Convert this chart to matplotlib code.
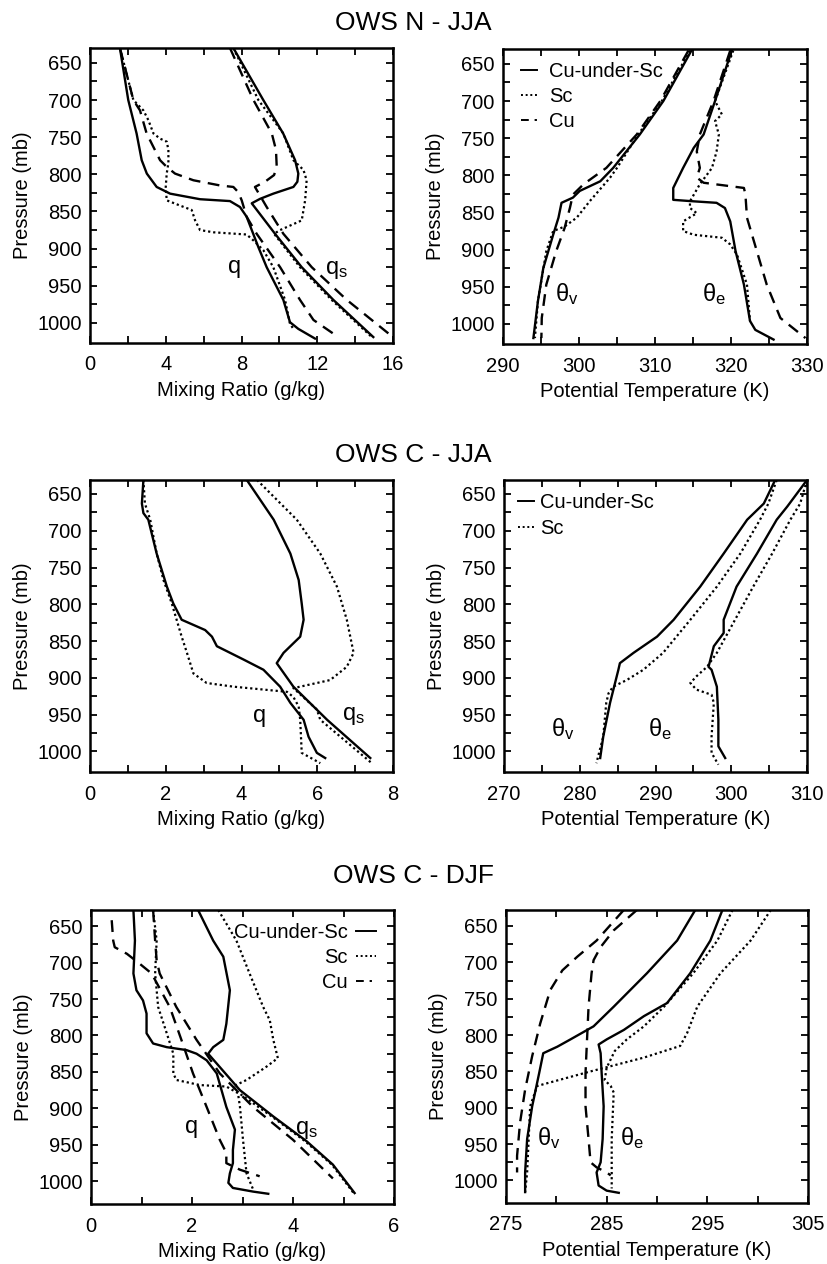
import matplotlib.pyplot as plt
from matplotlib.lines import Line2D
import numpy as np

plt.rcParams['font.family'] = ['Liberation Sans', 'DejaVu Sans']
plt.rcParams['mathtext.fontset'] = 'custom'
plt.rcParams['mathtext.rm'] = 'Liberation Sans'
plt.rcParams['mathtext.it'] = 'Liberation Sans'

# ---------------- OWS N - JJA : mixing ratio (g/kg) ----------------
nq_cus_p = [630, 700, 745, 781, 799, 817, 826, 833.5, 836, 844, 857, 898, 925, 969, 999, 1008, 1021]
nq_cus = [1.58, 2.02, 2.46, 2.73, 3.0, 3.52, 4.23, 5.81, 7.39, 7.92, 8.27, 8.89, 9.33, 10.21, 10.56, 11.0, 11.88]
nqs_cus_p = [630, 700, 745, 781, 799, 810, 817, 826, 833, 839, 880, 925, 969, 1019]
nqs_cus = [7.57, 9.15, 10.2, 10.83, 11.0, 10.95, 10.74, 9.68, 8.98, 8.54, 9.77, 11.18, 12.85, 14.96]

nq_sc_p = [630, 700, 714, 727, 745, 752, 756, 767, 785, 799, 817, 835, 842, 848, 862, 875, 878, 881, 889, 902, 925, 969, 1001, 1008]
nq_sc = [1.58, 2.29, 2.82, 3.08, 3.35, 3.7, 4.05, 4.14, 4.14, 4.05, 4.0, 4.05, 4.75, 5.37, 5.55, 5.81, 6.51, 8.27, 8.63, 9.15, 9.68, 10.3, 10.56, 10.74]
nqs_sc_p = [630, 700, 745, 781, 794, 808, 835, 862, 871, 875, 880, 925, 969, 1019]
nqs_sc = [7.57, 8.89, 10.21, 10.74, 11.27, 11.44, 11.36, 11.18, 10.39, 10.04, 9.72, 11.09, 12.76, 14.88]

nq_cu_p = [630, 700, 714, 745, 781, 790, 799, 808, 815, 817, 824, 835, 857, 880, 925, 969, 996, 1016]
nq_cu = [1.58, 2.29, 2.64, 2.99, 3.7, 4.05, 4.49, 5.46, 6.87, 7.57, 7.83, 8.01, 8.27, 8.8, 10.04, 11.09, 11.8, 12.94]
nqs_cu_p = [630, 700, 745, 767, 790, 801, 810, 817, 844, 880, 925, 969, 1016]
nqs_cu = [7.39, 8.63, 9.6, 9.82, 9.86, 9.72, 9.24, 8.71, 9.33, 10.21, 11.71, 13.56, 15.85]

# ---------------- OWS N - JJA : potential temperature (K) ----------------
nthv_cus_p = [632, 700, 745, 790, 808, 821, 830, 837, 857, 880, 925, 969, 1019]
nthv_cus = [314.8, 311.1, 308.0, 304.5, 302.8, 300.1, 299.2, 297.7, 297.3, 296.6, 295.3, 294.6, 294.0]
nthe_cus_p = [632, 700, 745, 763, 790, 817, 833, 835, 837, 844, 862, 902, 947, 996, 1008, 1021]
nthe_cus = [320.1, 317.9, 316.4, 315.1, 313.7, 312.4, 312.4, 315.1, 318.1, 319.2, 319.9, 320.6, 321.7, 322.5, 323.2, 325.6]

nthv_sc_p = [632, 700, 745, 790, 803, 835, 857, 869, 875, 902, 969, 1019]
nthv_sc = [314.6, 310.9, 307.8, 305.0, 304.1, 301.4, 299.7, 298.1, 296.6, 295.7, 294.6, 294.2]
nthe_sc_p = [632, 700, 718, 727, 745, 768, 790, 812, 835, 844, 851, 862, 875, 880, 884, 893, 907, 947, 996]
nthe_sc = [320.3, 317.9, 318.8, 317.9, 318.4, 318.1, 317.5, 315.9, 314.6, 314.6, 315.5, 313.7, 313.7, 315.1, 318.8, 319.9, 320.8, 322.1, 322.5]

nthv_cu_p = [632, 700, 745, 790, 812, 826, 844, 871, 902, 947, 992, 1019]
nthv_cu = [314.4, 310.7, 307.6, 303.6, 300.6, 299.2, 298.8, 298.1, 297.0, 295.7, 295.1, 295.05]
nthe_cu_p = [632, 700, 745, 768, 790, 803, 810, 817, 826, 857, 902, 947, 992, 1019]
nthe_cu = [319.9, 317.7, 315.9, 315.5, 315.9, 315.5, 316.4, 321.7, 321.9, 322.1, 323.4, 324.7, 326.5, 329.8]

# ---------------- OWS C - JJA : mixing ratio (g/kg) ----------------
cjq_cus_p = [631, 663, 676, 685, 731, 776, 799, 821, 835, 844, 857, 875, 889, 912, 934, 957, 980, 1002, 1009]
cjq_cus = [1.41, 1.37, 1.41, 1.54, 1.76, 2.03, 2.2, 2.42, 3.04, 3.22, 3.35, 4.05, 4.58, 5.02, 5.29, 5.64, 5.77, 5.99, 6.21]
cjqs_cus_p = [631, 685, 731, 767, 799, 821, 844, 866, 880, 912, 957, 1009]
cjqs_cus = [4.14, 4.85, 5.29, 5.51, 5.59, 5.64, 5.55, 5.11, 4.93, 5.37, 6.26, 7.4]

cjq_sc_p = [631, 663, 685, 731, 767, 799, 844, 866, 894, 907, 912, 919, 926, 939, 957, 1002, 1016]
cjq_sc = [1.41, 1.45, 1.59, 1.76, 1.94, 2.16, 2.42, 2.56, 2.73, 3.08, 3.79, 5.2, 5.37, 5.51, 5.55, 5.59, 6.08]
cjqs_sc_p = [631, 685, 731, 776, 821, 866, 885, 903, 914, 943, 957, 1016]
cjqs_sc = [4.41, 5.46, 6.08, 6.52, 6.78, 6.96, 6.78, 6.34, 5.37, 5.99, 6.08, 7.44]

# ---------------- OWS C - JJA : potential temperature (K) ----------------
cjthv_cus_p = [631, 663, 685, 731, 776, 821, 844, 866, 880, 889, 934, 980, 1009]
cjthv_cus = [305.8, 304.3, 302.1, 299.0, 295.9, 292.4, 290.2, 287.1, 285.3, 285.1, 284.0, 283.1, 282.7]
cjthe_cus_p = [631, 667, 685, 731, 776, 821, 839, 857, 885, 889, 912, 957, 993, 1009]
cjthe_cus = [310.0, 307.4, 306.0, 303.4, 300.7, 299.0, 299.0, 297.7, 297.0, 297.4, 298.1, 298.3, 298.3, 299.2]

cjthv_sc_p = [631, 663, 685, 731, 776, 821, 866, 889, 903, 912, 921, 934, 980, 1016]
cjthv_sc = [306.0, 304.9, 303.8, 301.2, 298.1, 294.6, 291.0, 288.4, 286.2, 284.4, 283.8, 283.5, 283.1, 282.2]
cjthe_sc_p = [631, 663, 685, 731, 776, 821, 866, 885, 898, 907, 916, 923, 934, 980, 1002, 1018]
cjthe_sc = [310.0, 309.1, 307.8, 305.4, 302.9, 300.5, 298.1, 296.8, 295.4, 294.6, 295.4, 297.4, 297.7, 297.4, 297.4, 298.3]

# ---------------- OWS C - DJF : mixing ratio (g/kg) ----------------
cdq_cus_p = [628, 670, 715, 738, 752, 770, 797, 811, 816, 820, 825, 834, 852, 898, 929, 957, 975, 989, 1002, 1009, 1014, 1017]
cdq_cus = [0.84, 0.87, 0.84, 0.9, 1.03, 1.1, 1.1, 1.23, 1.5, 1.89, 2.09, 2.29, 2.49, 2.68, 2.85, 2.81, 2.81, 2.75, 2.72, 2.81, 3.21, 3.51]
cdqs_cus_p = [628, 670, 692, 738, 784, 806, 816, 825, 875, 911, 945, 977, 1016]
cdqs_cus = [2.12, 2.42, 2.62, 2.75, 2.68, 2.62, 2.42, 2.32, 2.95, 3.61, 4.27, 4.79, 5.22]

cdq_sc_p = [628, 670, 715, 761, 797, 825, 852, 861, 868, 870, 879, 898, 943, 989, 1011]
cdq_sc = [1.23, 1.3, 1.27, 1.33, 1.5, 1.63, 1.63, 1.69, 2.16, 2.68, 2.91, 2.95, 3.01, 3.08, 3.21]
cdqs_sc_p = [628, 670, 715, 761, 779, 806, 831, 843, 861, 870, 880, 911, 945, 977, 1016]
cdqs_sc = [2.52, 2.88, 3.14, 3.41, 3.54, 3.61, 3.7, 3.47, 3.08, 2.81, 2.95, 3.58, 4.24, 4.77, 5.2]

cdq_cu_p = [642, 670, 679, 688, 702, 715, 761, 806, 852, 898, 943, 961, 975, 984, 993]
cdq_cu = [0.41, 0.44, 0.47, 0.71, 0.97, 1.2, 1.56, 1.79, 2.02, 2.29, 2.55, 2.68, 2.68, 2.95, 3.34]
cdqs_cu_p = [628, 670, 697, 715, 761, 806, 852, 898, 943, 996]
cdqs_cu = [1.23, 1.27, 1.3, 1.36, 1.69, 2.09, 2.55, 3.21, 4.0, 4.79]

# ---------------- OWS C - DJF : potential temperature (K) ----------------
cdthv_cus_p = [628, 670, 715, 761, 788, 806, 816, 825, 852, 898, 943, 989, 1016]
cdthv_cus = [293.8, 292.0, 289.0, 285.7, 283.7, 281.4, 280.1, 278.7, 278.3, 277.6, 277.1, 276.9, 276.9]
cdthe_cus_p = [628, 670, 715, 756, 774, 793, 806, 813, 825, 852, 898, 943, 975, 989, 1007, 1014, 1017]
cdthe_cus = [296.5, 295.3, 293.3, 291.0, 288.7, 286.7, 285.0, 284.2, 284.4, 284.5, 284.7, 284.6, 284.4, 284.0, 284.2, 285.0, 286.2]

cdthv_sc_p = [628, 670, 715, 761, 797, 815, 831, 850, 870, 898, 989, 1016]
cdthv_sc = [301.3, 299.3, 296.3, 294.0, 293.0, 292.3, 288.7, 283.4, 278.1, 277.4, 277.1, 276.9]
cdthe_sc_p = [628, 670, 715, 761, 788, 806, 822, 845, 862, 870, 879, 943, 1011]
cdthe_sc = [297.5, 296.0, 293.6, 290.7, 288.7, 287.0, 285.8, 285.0, 284.8, 285.4, 285.7, 285.5, 285.5]

cdthv_cu_p = [628, 670, 692, 711, 738, 784, 829, 875, 920, 966, 989]
cdthv_cu = [286.7, 284.0, 282.1, 280.6, 279.4, 278.4, 277.6, 276.9, 276.4, 276.1, 276.1]
cdthe_cu_p = [628, 656, 679, 697, 715, 761, 806, 852, 898, 943, 975, 982, 989, 993]
cdthe_cu = [288.0, 285.7, 284.4, 283.7, 283.5, 283.2, 283.05, 282.9, 282.9, 283.2, 283.4, 284.0, 285.0, 285.4]

W, H = 827, 1264
fig = plt.figure(figsize=(W / 100, H / 100), dpi=100)
fig.patch.set_facecolor('white')

solid = dict(color='black', lw=1.7, ls='-')
dotted = dict(color='black', lw=1.6, ls=(0, (1, 1.3)))
dashed = dict(color='black', lw=1.7, ls=(0, (5, 3.2)))


def make_axes(left, right, top, bottom):
    return fig.add_axes([left / W, 1 - bottom / H, (right - left) / W, (bottom - top) / H])


def style(ax, x0, x1, xstep, ylim, xlabel):
    ax.set_xlim(x0, x1)
    ax.set_ylim(*ylim)
    xt = np.arange(x0, x1 + 1e-6, xstep / 2)
    ax.set_xticks(xt)
    ax.set_xticklabels([f'{v:g}' if i % 2 == 0 else '' for i, v in enumerate(xt)])
    yt = np.arange(650, 1001, 25)
    ax.set_yticks(yt)
    ax.set_yticklabels([str(v) if v % 50 == 0 else '' for v in yt])
    ax.tick_params(direction='in', top=True, right=True, length=5, width=1.3, labelsize=14.5)
    ax.tick_params(axis='x', pad=9)
    ax.tick_params(axis='y', pad=6)
    for s in ax.spines.values():
        s.set_linewidth(1.8)
    ax.set_xlabel(xlabel, fontsize=14.5, labelpad=5)
    ax.set_ylabel('Pressure (mb)', fontsize=14.5, labelpad=4)


def tag(ax, x, p, s):
    ax.text(x, p, s, ha='center', va='center', fontsize=17)


MR = 'Mixing Ratio (g/kg)'
PT = 'Potential Temperature (K)'

# titles
fig.text(413 / W, 1 - 30 / H, 'OWS N - JJA', ha='center', va='baseline', fontsize=19)
fig.text(413 / W, 1 - 462 / H, 'OWS C - JJA', ha='center', va='baseline', fontsize=19)
fig.text(413 / W, 1 - 883 / H, 'OWS C - DJF', ha='center', va='baseline', fontsize=19)

# Panel 1
ax1 = make_axes(90, 393, 48, 343)
ax1.plot(nq_cus, nq_cus_p, **solid)
ax1.plot(nqs_cus, nqs_cus_p, **solid)
ax1.plot(nq_sc, nq_sc_p, **dotted)
ax1.plot(nqs_sc, nqs_sc_p, **dotted)
ax1.plot(nq_cu, nq_cu_p, **dashed)
ax1.plot(nqs_cu, nqs_cu_p, **dashed)
style(ax1, 0, 16, 4, (1027, 630), MR)
tag(ax1, 7.66, 925, 'q')
tag(ax1, 13.0, 929, r'$\mathregular{q_s}$')

# Panel 2
ax2 = make_axes(503, 807, 49, 344)
ax2.plot(nthv_cus, nthv_cus_p, **solid)
ax2.plot(nthe_cus, nthe_cus_p, **solid)
ax2.plot(nthv_sc, nthv_sc_p, **dotted)
ax2.plot(nthe_sc, nthe_sc_p, **dotted)
ax2.plot(nthv_cu, nthv_cu_p, **dashed)
ax2.plot(nthe_cu, nthe_cu_p, **dashed)
style(ax2, 290, 330, 10, (1027, 630), PT)
tag(ax2, 298.4, 960, r'$\mathregular{\theta_v}$')
tag(ax2, 317.7, 960, r'$\mathregular{\theta_e}$')
h_cus = Line2D([], [], color='black', lw=1.4, ls='-')
h_sc = Line2D([], [], color='black', lw=1.4, ls=(0, (1, 1.4)))
h_cu = Line2D([], [], color='black', lw=1.4, ls=(0, (4, 3, 1.2, 3)))
ax2.legend([h_cus, h_sc, h_cu], ['Cu-under-Sc', 'Sc', 'Cu'], loc='upper left',
           bbox_to_anchor=(0.06, 0.955), borderaxespad=0, borderpad=0, frameon=False,
           fontsize=14.5, handlelength=0.8, handletextpad=0.6, labelspacing=0.3)

# Panel 3
ax3 = make_axes(90, 393, 480, 772)
ax3.plot(cjq_cus, cjq_cus_p, **solid)
ax3.plot(cjqs_cus, cjqs_cus_p, **solid)
ax3.plot(cjq_sc, cjq_sc_p, **dotted)
ax3.plot(cjqs_sc, cjqs_sc_p, **dotted)
style(ax3, 0, 8, 2, (1028, 631), MR)
tag(ax3, 4.49, 952, 'q')
tag(ax3, 6.96, 952, r'$\mathregular{q_s}$')

# Panel 4
ax4 = make_axes(504, 807, 480, 772)
ax4.plot(cjthv_cus, cjthv_cus_p, **solid)
ax4.plot(cjthe_cus, cjthe_cus_p, **solid)
ax4.plot(cjthv_sc, cjthv_sc_p, **dotted)
ax4.plot(cjthe_sc, cjthe_sc_p, **dotted)
style(ax4, 270, 310, 10, (1028, 631), PT)
tag(ax4, 277.8, 970, r'$\mathregular{\theta_v}$')
tag(ax4, 290.6, 970, r'$\mathregular{\theta_e}$')
ax4.legend([h_cus, h_sc], ['Cu-under-Sc', 'Sc'], loc='upper left',
           bbox_to_anchor=(0.045, 0.955), borderaxespad=0, borderpad=0, frameon=False,
           fontsize=14.5, handlelength=0.8, handletextpad=0.3, labelspacing=0.35)

# Panel 5
ax5 = make_axes(91, 394, 910, 1204)
ax5.plot(cdq_cus, cdq_cus_p, **solid)
ax5.plot(cdqs_cus, cdqs_cus_p, **solid)
ax5.plot(cdq_sc, cdq_sc_p, **dotted)
ax5.plot(cdqs_sc, cdqs_sc_p, **dotted)
ax5.plot(cdq_cu, cdq_cu_p, **dashed)
ax5.plot(cdqs_cu, cdqs_cu_p, **dashed)
style(ax5, 0, 6, 2, (1031, 628), MR)
tag(ax5, 1.99, 925, 'q')
tag(ax5, 4.27, 929, r'$\mathregular{q_s}$')
ax5.legend([h_cus, h_sc, h_cu], ['Cu-under-Sc', 'Sc', 'Cu'], loc='upper right',
           bbox_to_anchor=(0.94, 0.955), borderaxespad=0, borderpad=0, frameon=False,
           fontsize=14.5, handlelength=1.0, handletextpad=0.4, labelspacing=0.3,
           markerfirst=False)

# Panel 6
ax6 = make_axes(506, 808, 910, 1203)
ax6.plot(cdthv_cus, cdthv_cus_p, **solid)
ax6.plot(cdthe_cus, cdthe_cus_p, **solid)
ax6.plot(cdthv_sc, cdthv_sc_p, **dotted)
ax6.plot(cdthe_sc, cdthe_sc_p, **dotted)
ax6.plot(cdthv_cu, cdthv_cu_p, **dashed)
ax6.plot(cdthe_cu, cdthe_cu_p, **dashed)
style(ax6, 275, 305, 10, (1031, 628), PT)
tag(ax6, 279.2, 941, r'$\mathregular{\theta_v}$')
tag(ax6, 287.5, 941, r'$\mathregular{\theta_e}$')

fig.savefig('out.png', dpi=100)
